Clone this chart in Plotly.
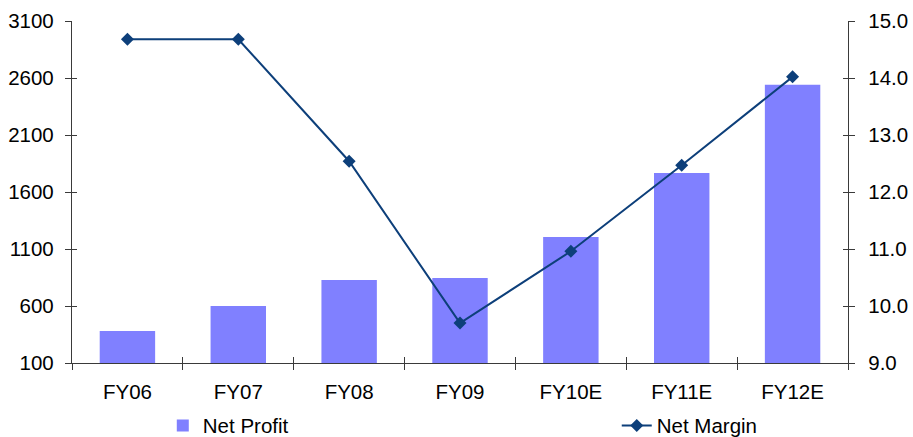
import plotly.graph_objects as go

categories = ["FY06", "FY07", "FY08", "FY09", "FY10E", "FY11E", "FY12E"]
net_profit = [380, 600, 828, 846, 1205, 1767, 2540]
net_margin = [14.68, 14.68, 12.54, 9.70, 10.96, 12.47, 14.02]
left_ticks = [100, 600, 1100, 1600, 2100, 2600, 3100]
right_ticks = [9.0, 10.0, 11.0, 12.0, 13.0, 14.0, 15.0]

FONT = "Liberation Sans, Arial, sans-serif"
AX = "#3a3a3a"
LINE = "#0d3f7a"

fig = go.Figure()
fig.add_trace(go.Bar(x=categories, y=net_profit, name="Net Profit",
                     marker=dict(color="#8080ff", line=dict(width=0)),
                     width=0.5, yaxis="y", legend="legend"))
fig.add_trace(go.Scatter(x=categories, y=net_margin, name="Net Margin",
                         mode="lines+markers", yaxis="y2", legend="legend2",
                         line=dict(color=LINE, width=2),
                         marker=dict(symbol="diamond", size=10, color=LINE)))
# invisible traces for inner half of cross ticks
fig.add_trace(go.Scatter(x=categories, y=[None]*7, xaxis="x3", yaxis="y3",
                         showlegend=False, hoverinfo="skip"))
fig.add_trace(go.Scatter(x=categories, y=[None]*7, xaxis="x3", yaxis="y4",
                         showlegend=False, hoverinfo="skip"))

fig.update_layout(
    width=913, height=437,
    margin=dict(l=72, r=65, t=21, b=74, autoexpand=False),
    paper_bgcolor="white", plot_bgcolor="white",
    font=dict(family=FONT, size=20.5, color="black"),
    showlegend=True,
    legend=dict(orientation="h", x=0.117, y=-0.183, xanchor="left", yanchor="middle",
                font=dict(size=20.5), bgcolor="rgba(0,0,0,0)"),
    legend2=dict(orientation="h", x=0.702, y=-0.183, xanchor="left", yanchor="middle",
                 font=dict(size=20.5), bgcolor="rgba(0,0,0,0)"),
    xaxis=dict(type="category", range=[-0.5, 6.5], tickson="boundaries",
               ticks="outside", ticklen=6, tickwidth=1.3, tickcolor=AX,
               showline=True, linecolor=AX, linewidth=1.3, showgrid=False,
               zeroline=False, ticklabelstandoff=10),
    yaxis=dict(range=[100, 3100], tickvals=left_ticks, ticks="outside", ticklen=6,
               tickwidth=1.3, tickcolor=AX, showline=True, linecolor=AX, linewidth=1.3,
               showgrid=False, zeroline=False, ticklabelstandoff=7),
    yaxis2=dict(range=[9, 15], tickvals=right_ticks, tickformat=".1f", overlaying="y",
                side="right", ticks="outside", ticklen=6, tickwidth=1.3, tickcolor=AX,
                showline=True, linecolor=AX, linewidth=1.3, showgrid=False,
                zeroline=False, ticklabelstandoff=9),
    xaxis3=dict(type="category", range=[-0.5, 6.5], tickson="boundaries", overlaying="x",
                anchor="y3", ticks="inside", ticklen=6, tickwidth=1.3, tickcolor=AX,
                showticklabels=False, showline=False, showgrid=False, zeroline=False),
    yaxis3=dict(range=[100, 3100], tickvals=left_ticks, overlaying="y", anchor="x3",
                side="left", ticks="inside", ticklen=5, tickwidth=1.3, tickcolor=AX,
                showticklabels=False, showline=False, showgrid=False, zeroline=False),
    yaxis4=dict(range=[9, 15], tickvals=right_ticks, overlaying="y", anchor="x3",
                side="right", ticks="inside", ticklen=5, tickwidth=1.3, tickcolor=AX,
                showticklabels=False, showline=False, showgrid=False, zeroline=False),
)

fig.write_html("out.html", config={"displayModeBar": False},
               post_script="document.body.style.margin='0';document.body.style.padding='0';")
